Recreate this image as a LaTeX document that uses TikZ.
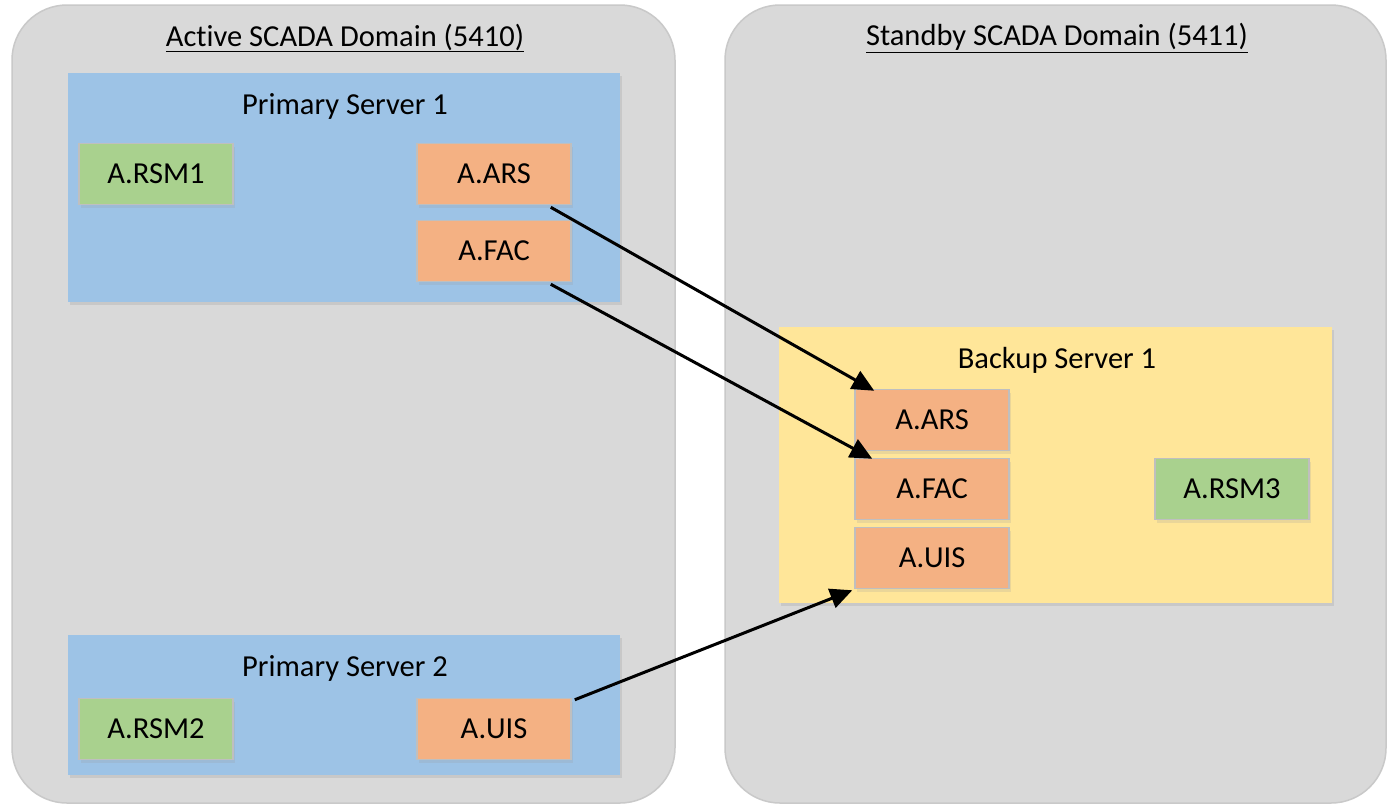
\documentclass[tikz,border=0pt]{standalone}
\usepackage{fontspec}
\setmainfont{Carlito}[Ligatures=NoCommon]
\usetikzlibrary{arrows.meta,calc,shadows}
\definecolor{domfill}{HTML}{D9D9D9}
\definecolor{domline}{HTML}{C9C9C9}
\definecolor{srvblue}{HTML}{9DC3E6}
\definecolor{srvyellow}{HTML}{FFE699}
\definecolor{procorange}{HTML}{F4B183}
\definecolor{procgreen}{HTML}{A9D18E}
\definecolor{boxline}{HTML}{BFBFBF}
\tikzset{
  domainbox/.style={draw=domline, line width=1.5pt, fill=domfill, rounded corners=55pt},
  serverbox/.style={fill=#1, draw=none, drop shadow={shadow xshift=2pt, shadow yshift=-3pt, opacity=0.25, fill=black!40}},
  procbox/.style={draw=boxline, line width=1.5pt, fill=#1, minimum width=154pt, minimum height=61pt,
    inner sep=0pt, font=\fontsize{30.5}{34}\selectfont, drop shadow={shadow xshift=2pt, shadow yshift=-3pt, opacity=0.2, fill=black!40}},
  lbl/.style={font=\fontsize{30.5}{34}\selectfont, inner sep=0pt},
  conn/.style={line width=3pt, -{Triangle[length=22pt,width=20pt]}}
}
\begin{document}
\begin{tikzpicture}[x=1pt,y=-1pt]
\useasboundingbox[fill=white] (0,0) rectangle (1391,807);
% domains
\draw[domainbox] (12,5) rectangle (675,803);
\draw[domainbox] (725,5) rectangle (1386,803);
\node[lbl] (t1) at (345,38) {\underline{Active SCADA Domain (5410)}};
\node[lbl] (t2) at (1057,38) {\underline{Standby SCADA Domain (5411)}};
% servers
\fill[serverbox=srvblue] (68,73) rectangle (620,302);
\node[lbl] (ps1) at (345,106) {Primary Server 1};
\fill[serverbox=srvblue] (68,635) rectangle (620,775);
\node[lbl] (ps2) at (345,668) {Primary Server 2};
\fill[serverbox=srvyellow] (779,327) rectangle (1332,603);
\node[lbl] (bs1) at (1057,360) {Backup Server 1};
% processes
\node[procbox=procgreen] (rsm1) at (156,174) {A.RSM1};
\node[procbox=procorange] (ars1) at (494,174) {A.ARS};
\node[procbox=procorange] (fac1) at (494,251) {A.FAC};
\node[procbox=procgreen] (rsm2) at (156,729) {A.RSM2};
\node[procbox=procorange] (uis1) at (494,729) {A.UIS};
\node[procbox=procorange] (ars2) at (932,420) {A.ARS};
\node[procbox=procorange] (fac2) at (932,489) {A.FAC};
\node[procbox=procorange] (uis2) at (932,558) {A.UIS};
\node[procbox=procgreen] (rsm3) at (1232,489) {A.RSM3};
% connectors
\draw[conn] ([xshift=-21pt,yshift=-2pt]ars1.south east) -- ([xshift=20pt,yshift=-2pt]ars2.north west);
\draw[conn] ([xshift=-21pt,yshift=-2pt]fac1.south east) -- ([xshift=18pt,yshift=-1pt]fac2.north west);
\draw[conn] ([xshift=3pt,yshift=-2pt]uis1.north east) -- ([xshift=-2pt,yshift=-1pt]uis2.south west);
\end{tikzpicture}
\end{document}
